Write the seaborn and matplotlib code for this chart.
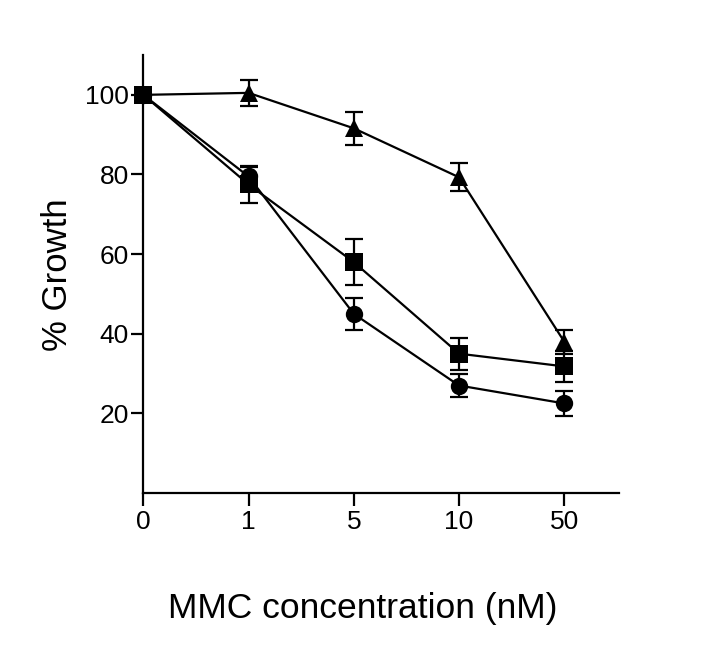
import matplotlib
matplotlib.use("Agg")
import matplotlib.pyplot as plt
import numpy as np
import pandas as pd
import seaborn as sns

# MMC concentration categories (nM), evenly spaced on the axis
doses = ["0", "1", "5", "10", "50"]

circle_mean = [100, 79.5, 45.0, 27.0, 22.5]
circle_err = [0, 2.5, 4.0, 2.8, 3.1]

square_mean = [100, 77.5, 58.0, 35.0, 31.8]
square_err = [0, 4.7, 5.7, 4.0, 3.8]

triangle_mean = [100, 100.5, 91.6, 79.3, 38.0]
triangle_err = [0, 3.3, 4.2, 3.5, 3.0]

sns.set_style("ticks")
plt.rcParams['font.family'] = ['Liberation Sans', 'DejaVu Sans']

fig = plt.figure(figsize=(7.08, 6.64), dpi=100)
ax = fig.add_axes([0.2024, 0.2575, 0.6719, 0.6596])

pos = np.arange(len(doses))
series = [
    (circle_mean, circle_err, "o"),
    (triangle_mean, triangle_err, "^"),
    (square_mean, square_err, "s"),
]

for mean, err, mk in series:
    df = pd.DataFrame({"pos": pos, "growth": mean})
    ax.errorbar(df["pos"], df["growth"], yerr=err, fmt="none", ecolor="black",
                elinewidth=1.6, capsize=6.5, capthick=1.6, clip_on=False, zorder=2)
    sns.lineplot(data=df, x="pos", y="growth", ax=ax, color="black", linewidth=1.6,
                 marker=mk, markersize=12.5 if mk != "^" else 13.5, markeredgewidth=0,
                 clip_on=False, zorder=3)

ax.set_xlim(0, 4.52)
ax.set_ylim(0, 110)
ax.set_xticks(pos)
ax.set_xticklabels(doses)
ax.set_yticks([20, 40, 60, 80, 100])

ax.tick_params(axis="both", labelsize=19, width=1.6, color="black", labelcolor="black")
ax.tick_params(axis="x", length=9, pad=3)
ax.tick_params(axis="y", length=9, pad=1.5)

for side in ["top", "right"]:
    ax.spines[side].set_visible(False)
for side in ["left", "bottom"]:
    ax.spines[side].set_linewidth(1.6)
    ax.spines[side].set_color("black")

ax.set_xlabel("MMC concentration (nM)", fontsize=25.5, color="black")
ax.set_ylabel("% Growth", fontsize=25, color="black")
ax.xaxis.set_label_coords(0.461, -0.226)
ax.yaxis.set_label_coords(-0.146, 0.498)

fig.savefig("out.png", dpi=100)
